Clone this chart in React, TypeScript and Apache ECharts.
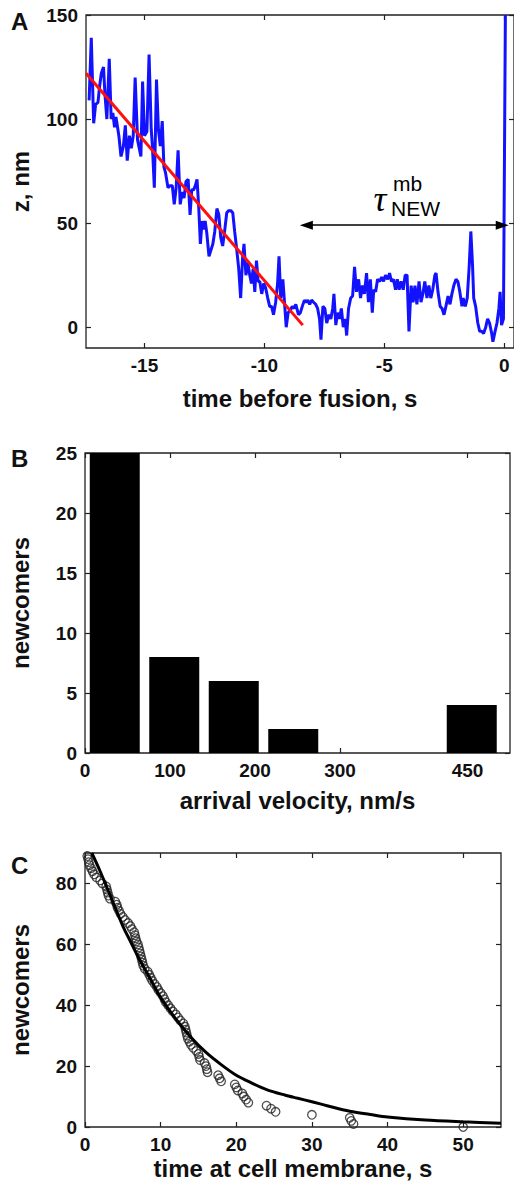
import React, { useEffect, useRef } from "react";
import * as echarts from "echarts";

// ---------- Panel A: z position vs time before fusion ----------
const traceA: [number, number][] = [
  [-17.31, 109], [-17.22, 139], [-17.12, 98], [-17.04, 107], [-16.94, 108], [-16.87, 116],
  [-16.8, 122], [-16.71, 125], [-16.65, 112], [-16.57, 100], [-16.47, 129], [-16.39, 100],
  [-16.32, 103], [-16.25, 96], [-16.19, 101], [-16.07, 92], [-15.98, 82], [-15.88, 87],
  [-15.8, 97], [-15.72, 80], [-15.63, 92], [-15.55, 86], [-15.47, 92], [-15.39, 120],
  [-15.29, 90], [-15.22, 86], [-15.15, 82], [-15.08, 118], [-15.0, 92], [-14.9, 94],
  [-14.81, 131], [-14.72, 95], [-14.67, 87], [-14.59, 67], [-14.5, 119], [-14.42, 95],
  [-14.34, 87], [-14.26, 99], [-14.19, 77], [-14.12, 74], [-14.02, 67], [-13.93, 68],
  [-13.84, 68], [-13.76, 59], [-13.68, 67], [-13.6, 85], [-13.51, 59], [-13.43, 65],
  [-13.35, 62], [-13.27, 70], [-13.18, 71], [-13.1, 54], [-13.03, 66], [-12.95, 66],
  [-12.88, 68], [-12.81, 71], [-12.74, 58], [-12.67, 40], [-12.6, 51], [-12.53, 47],
  [-12.47, 51], [-12.4, 45], [-12.31, 34], [-12.23, 37], [-12.15, 40], [-12.07, 46],
  [-11.98, 57], [-11.9, 54], [-11.82, 43], [-11.74, 39], [-11.65, 47], [-11.57, 55],
  [-11.49, 56], [-11.4, 56], [-11.32, 55], [-11.24, 46], [-11.16, 38], [-11.07, 28],
  [-10.99, 14], [-10.91, 33], [-10.85, 40], [-10.77, 25], [-10.69, 31], [-10.61, 25],
  [-10.54, 21], [-10.47, 28], [-10.4, 17], [-10.33, 32], [-10.26, 22], [-10.19, 22],
  [-10.11, 16], [-10.03, 21], [-9.95, 19], [-9.86, 14], [-9.78, 10], [-9.7, 10],
  [-9.62, 6], [-9.53, 12], [-9.45, 21], [-9.39, 34], [-9.32, 14], [-9.23, 23],
  [-9.15, 10], [-9.09, 0], [-9.01, 7], [-8.93, 8], [-8.84, 10], [-8.77, 9],
  [-8.69, 11], [-8.58, 6], [-8.5, 7], [-8.42, 10], [-8.33, 13], [-8.26, 12],
  [-8.19, 13], [-8.11, 11], [-8.03, 13], [-7.95, 12], [-7.86, 11], [-7.78, 9],
  [-7.7, 4], [-7.64, -6], [-7.56, 10], [-7.48, 9], [-7.4, 2], [-7.31, 6],
  [-7.23, 4], [-7.15, 9], [-7.1, 16], [-7.02, 1], [-6.95, 7], [-6.87, 4],
  [-6.79, 9], [-6.71, 0], [-6.63, 4], [-6.57, -4], [-6.49, 9], [-6.4, 14],
  [-6.32, 15], [-6.24, 29], [-6.16, 17], [-6.07, 23], [-5.99, 14], [-5.91, 20],
  [-5.83, 16], [-5.74, 26], [-5.66, 12], [-5.58, 23], [-5.5, 7], [-5.44, 18],
  [-5.36, 17], [-5.28, 23], [-5.19, 22], [-5.11, 24], [-5.03, 22], [-4.95, 25],
  [-4.86, 23], [-4.78, 26], [-4.7, 22], [-4.62, 23], [-4.53, 18], [-4.46, 23],
  [-4.38, 18], [-4.3, 22], [-4.21, 18], [-4.13, 25], [-4.05, 25], [-3.97, -2],
  [-3.88, 20], [-3.8, 12], [-3.72, 20], [-3.64, 11], [-3.55, 22], [-3.47, 12],
  [-3.39, 16], [-3.31, 22], [-3.22, 14], [-3.14, 20], [-3.06, 14], [-2.98, 18],
  [-2.89, 25], [-2.84, 26], [-2.76, 17], [-2.67, 10], [-2.59, 9], [-2.51, 6],
  [-2.43, 10], [-2.34, 15], [-2.26, 11], [-2.18, 16], [-2.1, 20], [-2.01, 23],
  [-1.93, 22], [-1.85, 17], [-1.76, 10], [-1.71, 14], [-1.62, 10], [-1.54, 14],
  [-1.46, 29], [-1.39, 46], [-1.32, 30], [-1.27, 14], [-1.19, 10], [-1.1, 2],
  [-1.02, -2], [-0.94, -2], [-0.86, -3], [-0.77, 0], [-0.69, 4], [-0.61, 2],
  [-0.52, -3], [-0.47, -7], [-0.38, -2], [-0.3, 2], [-0.22, 9], [-0.17, 17],
  [-0.11, 1], [-0.03, 4], [0.05, 150],
];
const fitA: [number, number][] = [[-17.44, 122], [-8.4, 1]];
const arrowA: [number, number][] = [[-8.25, 49], [-0.08, 49]];
const ticksAX = [-15, -10, -5, 0];
const ticksAY = [0, 50, 100, 150];

// ---------- Panel B: histogram of arrival velocity ----------
const binCenters = [35, 105, 175, 245, 315, 385, 455];
const binCounts = [25, 8, 6, 2, 0, 0, 4];
const ticksBX = [0, 100, 200, 300, 450];
const ticksBY = [0, 5, 10, 15, 20, 25];

// ---------- Panel C: newcomers remaining vs time at membrane ----------
const circlesT = [
  0.3, 0.4, 0.5, 0.6, 0.8, 1.0, 1.2, 1.5, 2.0, 2.3,
  2.8, 2.9, 3.0, 3.1, 3.3, 4.0, 4.2, 4.3, 4.5, 4.7,
  5.0, 5.3, 5.7, 6.0, 6.2, 6.5, 6.6, 6.7, 6.8, 7.0,
  7.1, 7.2, 7.3, 7.4, 7.5, 7.6, 7.7, 7.9, 8.3, 8.5,
  8.7, 8.9, 9.2, 9.5, 9.7, 10.0, 10.3, 10.5, 10.7, 11.0,
  11.3, 11.6, 12.0, 12.3, 12.6, 13.0, 13.2, 13.3, 13.4, 13.5,
  13.6, 13.8, 14.0, 14.3, 14.7, 15.0, 15.1, 15.2, 15.8, 16.0,
  16.1, 16.2, 17.6, 17.8, 18.0, 19.8, 20.0, 20.2, 20.8, 21.0,
  21.3, 21.6, 24.0, 24.6, 25.2, 30.0, 35.0, 35.2, 35.5, 50.0,
];
const circlesN = [
  89, 88, 87, 86, 85, 84, 83, 82, 81, 80,
  79, 78, 77, 76, 75, 74, 73, 72, 71, 70,
  69, 68, 67, 66, 65, 64, 63, 62, 61, 60,
  59, 58, 57, 56, 55, 54, 53, 52, 51, 50,
  49, 48, 47, 46, 45, 44, 43, 42, 41, 40,
  39, 38, 37, 36, 35, 34, 33, 32, 31, 30,
  29, 28, 27, 26, 25, 24, 23, 22, 21, 20,
  19, 18, 17, 16, 15, 14, 13, 12, 11, 10,
  9, 8, 7, 6, 5, 4, 3, 2, 1, 0,
];
const fitC: [number, number][] = [
  [0.9, 90], [2, 84], [3, 78], [4, 72], [5, 66], [6, 61], [7, 56], [8, 51.5],
  [9, 47], [10, 42.5], [12, 35.5], [14, 29.5], [16, 24.5], [18, 20.5], [20, 17],
  [22, 14.5], [24, 12.3], [26.4, 10.5], [28, 9.5], [30, 8.3], [32, 7], [35, 5.2],
  [38, 4], [40, 3.3], [45, 2.3], [50, 1.7], [55, 1.2],
];
const ticksCX = [0, 10, 20, 30, 40, 50];
const ticksCY = [0, 20, 40, 60, 80];

const FONT = "'Liberation Sans', Arial, Helvetica, sans-serif";
const INK = "#111";
const FRAME = "#222";

function axis(
  kind: "x" | "y",
  gridIndex: number,
  min: number,
  max: number,
  ticks: number[],
  position: string,
  showLabel: boolean,
  name = "",
  nameGap = 0
) {
  return {
    type: "value",
    gridIndex,
    min,
    max,
    position,
    splitLine: { show: false },
    axisLine: { show: false, onZero: false },
    axisTick: {
      show: true,
      inside: true,
      length: 5,
      customValues: ticks,
      lineStyle: { color: FRAME, width: 1.2 },
    },
    axisLabel: {
      show: showLabel,
      customValues: ticks,
      fontSize: 19,
      fontWeight: "bold",
      color: INK,
      fontFamily: FONT,
      margin: kind === "x" ? 8 : 8,
    },
    name,
    nameLocation: "middle",
    nameGap,
    nameTextStyle: { fontSize: 24, fontWeight: "bold", color: INK, fontFamily: FONT },
  };
}

export default function App() {
  const ref = useRef<HTMLDivElement>(null);
  useEffect(() => {
    if (!ref.current) return;
    const chart = echarts.init(ref.current, undefined, { renderer: "svg" });
    const gridStyle = { show: true, borderColor: FRAME, borderWidth: 1.3, backgroundColor: "transparent" };
    chart.setOption({
      animation: false,
      backgroundColor: "#fff",
      grid: [
        { left: 83, top: 15, width: 432, height: 333, ...gridStyle },
        { left: 83, top: 453, width: 427, height: 300, ...gridStyle },
        { left: 83, top: 853, width: 418, height: 274, ...gridStyle },
      ],
      xAxis: [
        axis("x", 0, -17.44, 0.41, ticksAX, "bottom", true, "time before fusion, s", 38),
        axis("x", 0, -17.44, 0.41, ticksAX, "top", false),
        axis("x", 1, 0, 500, ticksBX, "bottom", true, "arrival velocity, nm/s", 35),
        axis("x", 1, 0, 500, ticksBX, "top", false),
        axis("x", 2, 0, 55, ticksCX, "bottom", true, "time at cell membrane, s", 29),
        axis("x", 2, 0, 55, ticksCX, "top", false),
      ],
      yAxis: [
        axis("y", 0, -10, 150, ticksAY, "left", true, "z, nm", 54),
        axis("y", 0, -10, 150, ticksAY, "right", false),
        axis("y", 1, 0, 25, ticksBY, "left", true, "newcomers", 53),
        axis("y", 1, 0, 25, ticksBY, "right", false),
        axis("y", 2, 0, 90, ticksCY, "left", true, "newcomers", 53),
        axis("y", 2, 0, 90, ticksCY, "right", false),
      ],
      series: [
        {
          type: "line",
          xAxisIndex: 0,
          yAxisIndex: 0,
          data: traceA,
          symbol: "none",
          lineStyle: { color: "#1212ff", width: 3 },
          clip: true,
          markLine: {
            silent: true,
            symbol: ["triangle", "triangle"],
            symbolSize: [9, 13],
            label: { show: false },
            lineStyle: { color: "#000", width: 1.5, type: "solid" },
            data: [[{ coord: arrowA[0] }, { coord: arrowA[1] }]],
          },
        },
        {
          type: "line",
          xAxisIndex: 0,
          yAxisIndex: 0,
          data: fitA,
          symbol: "none",
          lineStyle: { color: "#ff1010", width: 3 },
        },
        {
          type: "bar",
          xAxisIndex: 2,
          yAxisIndex: 2,
          data: binCenters.map((c, i) => [c, binCounts[i]]),
          barWidth: 50,
          itemStyle: { color: "#000" },
        },
        {
          type: "line",
          xAxisIndex: 4,
          yAxisIndex: 4,
          data: fitC,
          symbol: "none",
          smooth: 0.3,
          lineStyle: { color: "#000", width: 3 },
          clip: true,
        },
        {
          type: "scatter",
          xAxisIndex: 4,
          yAxisIndex: 4,
          data: circlesT.map((t, i) => [t, circlesN[i]]),
          symbol: "circle",
          symbolSize: 8.5,
          itemStyle: { color: "rgba(0,0,0,0)", borderColor: "#222", borderWidth: 1.3 },
          clip: false,
        },
      ],
      graphic: [
        { type: "text", x: 11, y: 21, style: { text: "A", fontSize: 24, fontWeight: "bold", fontFamily: FONT, fill: INK, align: "left", verticalAlign: "middle" } },
        { type: "text", x: 11, y: 458, style: { text: "B", fontSize: 24, fontWeight: "bold", fontFamily: FONT, fill: INK, align: "left", verticalAlign: "middle" } },
        { type: "text", x: 11, y: 865, style: { text: "C", fontSize: 24, fontWeight: "bold", fontFamily: FONT, fill: INK, align: "left", verticalAlign: "middle" } },
        { type: "text", x: 380, y: 199, style: { text: "τ", fontSize: 36, fontStyle: "italic", fontFamily: "'Liberation Serif', 'DejaVu Serif', serif", fill: "#000", align: "center", verticalAlign: "middle" } },
        { type: "text", x: 393, y: 183, style: { text: "mb", fontSize: 21, fontFamily: FONT, fill: "#000", align: "left", verticalAlign: "middle" } },
        { type: "text", x: 391, y: 208, style: { text: "NEW", fontSize: 21, fontFamily: FONT, fill: "#000", align: "left", verticalAlign: "middle" } },
      ],
    });
    return () => chart.dispose();
  }, []);
  return (
    <div
      ref={ref}
      style={{ position: "absolute", left: 0, top: 0, width: 514, height: 1187, background: "#fff" }}
    />
  );
}
